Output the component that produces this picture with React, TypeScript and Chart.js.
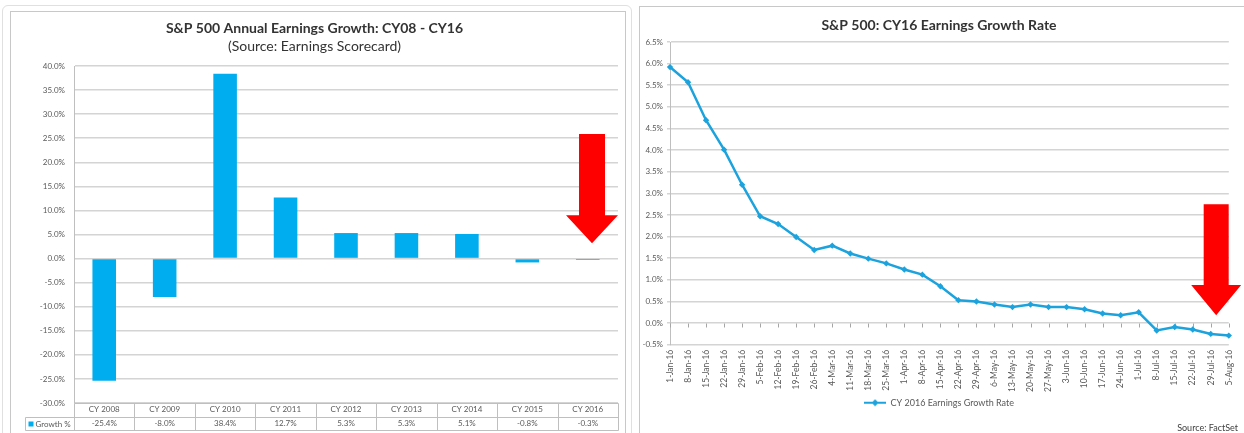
import React, { useEffect, useRef } from 'react';
import { Chart, registerables } from 'chart.js';

Chart.register(...registerables);

// ---------- Left chart data ----------
const annualTitle = 'S&P 500 Annual Earnings Growth: CY08 - CY16';
const annualSubtitle = '(Source: Earnings Scorecard)';
const annualCategories = ['CY 2008', 'CY 2009', 'CY 2010', 'CY 2011', 'CY 2012', 'CY 2013', 'CY 2014', 'CY 2015', 'CY 2016'];
const annualSeriesName = 'Growth %';
const annualGrowth = [-25.4, -8.0, 38.4, 12.7, 5.3, 5.3, 5.1, -0.8, -0.3];
const annualAxisMin = -30;
const annualAxisMax = 40;
const annualAxisStep = 5;
// arrow annotation (category index, values in %)
const annualArrow = [8.07, 25.9, 9.0, 3.2];

// ---------- Right chart data ----------
const weeklyTitle = 'S&P 500: CY16 Earnings Growth Rate';
const weeklySeriesName = 'CY 2016 Earnings Growth Rate';
const weeklySource = 'Source: FactSet';
const weeklyDates = [
  '1-Jan-16', '8-Jan-16', '15-Jan-16', '22-Jan-16', '29-Jan-16',
  '5-Feb-16', '12-Feb-16', '19-Feb-16', '26-Feb-16',
  '4-Mar-16', '11-Mar-16', '18-Mar-16', '25-Mar-16',
  '1-Apr-16', '8-Apr-16', '15-Apr-16', '22-Apr-16', '29-Apr-16',
  '6-May-16', '13-May-16', '20-May-16', '27-May-16',
  '3-Jun-16', '10-Jun-16', '17-Jun-16', '24-Jun-16',
  '1-Jul-16', '8-Jul-16', '15-Jul-16', '22-Jul-16', '29-Jul-16',
  '5-Aug-16',
];
const weeklyGrowth = [
  5.92, 5.57, 4.69, 4.01, 3.20,
  2.47, 2.29, 1.99, 1.69,
  1.79, 1.61, 1.49, 1.38,
  1.24, 1.12, 0.85, 0.53, 0.50,
  0.43, 0.37, 0.43, 0.37,
  0.37, 0.32, 0.22, 0.18,
  0.25, -0.17, -0.09, -0.15, -0.25,
  -0.29,
];
const weeklyAxisMin = -0.5;
const weeklyAxisMax = 6.5;
const weeklyAxisStep = 0.5;
const weeklyArrow = [30.3, 2.75, 0.88, 0.18];

const FONT = 'Lato, "Open Sans", "DejaVu Sans", sans-serif';
const BAR_BLUE = '#00AEEF';
const LINE_BLUE = '#1CA3DD';
const GRID = '#d4d4d4';
const AXIS = '#bfbfbf';
const TICK_TEXT = '#595959';

const pct = (v: number) => v.toFixed(1) + '%';

function drawArrow(ctx: CanvasRenderingContext2D, x: number, yTop: number, yHead: number, yTip: number, shaftW: number, headW: number) {
  ctx.save();
  ctx.fillStyle = '#FF0000';
  ctx.beginPath();
  ctx.moveTo(x - shaftW / 2, yTop);
  ctx.lineTo(x + shaftW / 2, yTop);
  ctx.lineTo(x + shaftW / 2, yHead);
  ctx.lineTo(x + headW / 2, yHead);
  ctx.lineTo(x, yTip);
  ctx.lineTo(x - headW / 2, yHead);
  ctx.lineTo(x - shaftW / 2, yHead);
  ctx.closePath();
  ctx.fill();
  ctx.restore();
}

const annualPlugin = {
  id: 'annualExtras',
  afterDatasetsDraw(chart: any) {
    const { ctx, scales } = chart;
    const x = scales.x.getPixelForValue(annualArrow[0]);
    drawArrow(ctx, x, scales.y.getPixelForValue(annualArrow[1]), scales.y.getPixelForValue(annualArrow[2]), scales.y.getPixelForValue(annualArrow[3]), 26, 52);
  },
  afterDraw(chart: any) {
    const { ctx, chartArea, scales } = chart;
    const rowH = 13.5;
    const top = Math.round(chartArea.bottom) + 0.5;
    const mid = Math.round(chartArea.bottom + rowH) + 0.5;
    const bot = Math.round(chartArea.bottom + 2 * rowH) + 0.5;
    const left = Math.round(chartArea.left) + 0.5;
    const right = Math.round(chartArea.right) + 0.5;
    const legendLeft = left - 49;
    ctx.save();
    ctx.strokeStyle = AXIS;
    ctx.lineWidth = 1;
    ctx.beginPath();
    ctx.moveTo(left, top); ctx.lineTo(right, top);
    ctx.moveTo(legendLeft, mid); ctx.lineTo(right, mid);
    ctx.moveTo(legendLeft, bot); ctx.lineTo(right, bot);
    ctx.moveTo(legendLeft, mid); ctx.lineTo(legendLeft, bot);
    for (let i = 0; i <= annualCategories.length; i++) {
      const xb = Math.round(scales.x.getPixelForValue(i - 0.5)) + 0.5;
      ctx.moveTo(xb, top); ctx.lineTo(xb, bot);
    }
    ctx.stroke();
    const cy = (mid + bot) / 2;
    ctx.fillStyle = BAR_BLUE;
    ctx.fillRect(legendLeft + 3, cy - 2.5, 5, 5);
    ctx.fillStyle = TICK_TEXT;
    ctx.font = '8px ' + FONT;
    ctx.textBaseline = 'middle';
    ctx.textAlign = 'left';
    ctx.fillText(annualSeriesName, legendLeft + 10, cy);
    ctx.restore();
  },
};

const weeklyPlugin = {
  id: 'weeklyExtras',
  beforeDatasetsDraw(chart: any) {
    const { ctx, scales } = chart;
    const y0 = Math.round(scales.y.getPixelForValue(0)) + 0.5;
    ctx.save();
    ctx.strokeStyle = '#a6a6a6';
    ctx.lineWidth = 1;
    ctx.beginPath();
    for (let i = 0; i < weeklyDates.length; i++) {
      const xp = Math.round(scales.x.getPixelForValue(i)) + 0.5;
      ctx.moveTo(xp, y0); ctx.lineTo(xp, y0 + 4);
    }
    ctx.stroke();
    ctx.restore();
  },
  afterDatasetsDraw(chart: any) {
    const { ctx, scales } = chart;
    const x = scales.x.getPixelForValue(weeklyArrow[0]);
    drawArrow(ctx, x, scales.y.getPixelForValue(weeklyArrow[1]), scales.y.getPixelForValue(weeklyArrow[2]), scales.y.getPixelForValue(weeklyArrow[3]), 25, 50);
  },
};

function makeLegendIcon(): HTMLCanvasElement {
  const c = document.createElement('canvas');
  c.width = 22;
  c.height = 8;
  const g = c.getContext('2d')!;
  g.strokeStyle = LINE_BLUE;
  g.lineWidth = 2;
  g.beginPath();
  g.moveTo(0, 4); g.lineTo(22, 4);
  g.stroke();
  g.fillStyle = LINE_BLUE;
  g.beginPath();
  g.moveTo(11, 0.5); g.lineTo(14.5, 4); g.lineTo(11, 7.5); g.lineTo(7.5, 4);
  g.closePath();
  g.fill();
  return c;
}

function AnnualChart() {
  const ref = useRef<HTMLCanvasElement>(null);
  useEffect(() => {
    const chart = new Chart(ref.current!, {
      type: 'bar',
      data: {
        labels: annualCategories,
        datasets: [{
          label: annualSeriesName,
          data: annualGrowth,
          backgroundColor: BAR_BLUE,
          borderWidth: 0,
          barPercentage: 0.39,
          categoryPercentage: 1,
        }],
      },
      options: {
        responsive: false,
        animation: false,
        layout: { padding: { left: 0, right: 7, top: 0, bottom: 2 } },
        plugins: {
          legend: { display: false },
          tooltip: { enabled: false },
          title: {
            display: true,
            text: annualTitle,
            color: '#333333',
            font: { family: FONT, size: 14, weight: 'bold', lineHeight: 1.2 },
            padding: { top: 7.6, bottom: 0 },
          },
          subtitle: {
            display: true,
            text: annualSubtitle,
            color: '#333333',
            font: { family: FONT, size: 14, weight: 'normal', lineHeight: 1.2 },
            padding: { top: 1.2, bottom: 11.6 },
          },
        },
        scales: {
          x: {
            grid: { display: false, drawTicks: false },
            border: { display: false },
            afterFit: (s: any) => { s.height = 28; },
            ticks: {
              autoSkip: false,
              maxRotation: 0,
              padding: 0,
              color: TICK_TEXT,
              font: { family: FONT, size: 8, lineHeight: 1.6875 },
              callback: (_v: any, i: number) => [annualCategories[i], pct(annualGrowth[i])],
            },
          },
          y: {
            min: annualAxisMin,
            max: annualAxisMax,
            afterFit: (s: any) => { s.width = 63; },
            grid: { color: GRID, lineWidth: 1.5, drawTicks: false },
            border: { display: true, color: AXIS, width: 1 },
            ticks: {
              stepSize: annualAxisStep,
              padding: 9,
              color: TICK_TEXT,
              font: { family: FONT, size: 8 },
              callback: (v: any) => pct(Number(v)),
            },
          },
        },
      },
      plugins: [annualPlugin],
    });
    return () => chart.destroy();
  }, []);
  return <canvas ref={ref} width={614} height={421} style={{ display: 'block' }} />;
}

function WeeklyChart() {
  const ref = useRef<HTMLCanvasElement>(null);
  useEffect(() => {
    const icon = makeLegendIcon();
    const chart = new Chart(ref.current!, {
      type: 'line',
      data: {
        labels: weeklyDates,
        datasets: [{
          label: weeklySeriesName,
          data: weeklyGrowth,
          borderColor: LINE_BLUE,
          backgroundColor: LINE_BLUE,
          borderWidth: 2.5,
          tension: 0,
          pointStyle: 'rectRot',
          pointRadius: 3.2,
          pointBorderWidth: 0,
          pointBackgroundColor: LINE_BLUE,
        }],
      },
      options: {
        responsive: false,
        animation: false,
        layout: { padding: { left: 0, right: 6, top: 0, bottom: 0 } },
        plugins: {
          tooltip: { enabled: false },
          title: {
            display: true,
            text: weeklyTitle,
            color: '#333333',
            font: { family: FONT, size: 14, weight: 'bold', lineHeight: 1.2 },
            padding: { top: 9.6, bottom: 8.6 },
          },
          legend: {
            display: true,
            position: 'bottom',
            labels: {
              usePointStyle: true,
              pointStyle: icon as any,
              pointStyleWidth: 22,
              padding: 3.5,
              color: TICK_TEXT,
              font: { family: FONT, size: 9 },
            },
          },
          subtitle: {
            display: true,
            text: weeklySource,
            position: 'bottom',
            align: 'end',
            color: '#404040',
            font: { family: FONT, size: 9, weight: 'normal', lineHeight: 1.2 },
            padding: { top: 5, bottom: 0 },
          },
        },
        scales: {
          x: {
            offset: false,
            grid: { display: false, drawTicks: false },
            border: { display: false },
            afterFit: (s: any) => { s.height = 50; },
            ticks: {
              autoSkip: false,
              maxRotation: 90,
              minRotation: 90,
              padding: 5,
              color: TICK_TEXT,
              font: { family: FONT, size: 8.5 },
            },
          },
          y: {
            min: weeklyAxisMin,
            max: weeklyAxisMax,
            afterFit: (s: any) => { s.width = 30; },
            grid: { color: GRID, lineWidth: 1.5, drawTicks: true, tickLength: 3 },
            border: { display: true, color: AXIS, width: 1 },
            ticks: {
              stepSize: weeklyAxisStep,
              padding: 4,
              color: TICK_TEXT,
              font: { family: FONT, size: 8 },
              callback: (v: any) => pct(Number(v)),
            },
          },
        },
      },
      plugins: [weeklyPlugin],
    });
    return () => chart.destroy();
  }, []);
  return <canvas ref={ref} width={604} height={426} style={{ display: 'block' }} />;
}

export default function App() {
  return (
    <div style={{ position: 'fixed', left: 0, top: 0, width: 1244, height: 433, overflow: 'hidden', background: '#ffffff' }}>
      <div style={{ position: 'absolute', left: 2, top: 5, width: 630, height: 440, border: '1px solid #e0e0e0', borderRadius: 6, boxSizing: 'border-box' }} />
      <div style={{ position: 'absolute', left: 10, top: 11, width: 616, height: 430, border: '1px solid #c8c8c8', boxSizing: 'border-box', background: '#fff' }}>
        <AnnualChart />
      </div>
      <div style={{ position: 'absolute', left: 639, top: 6, width: 612, height: 440, border: '1px solid #c8c8c8', boxSizing: 'border-box', background: '#fff' }}>
        <WeeklyChart />
      </div>
    </div>
  );
}
